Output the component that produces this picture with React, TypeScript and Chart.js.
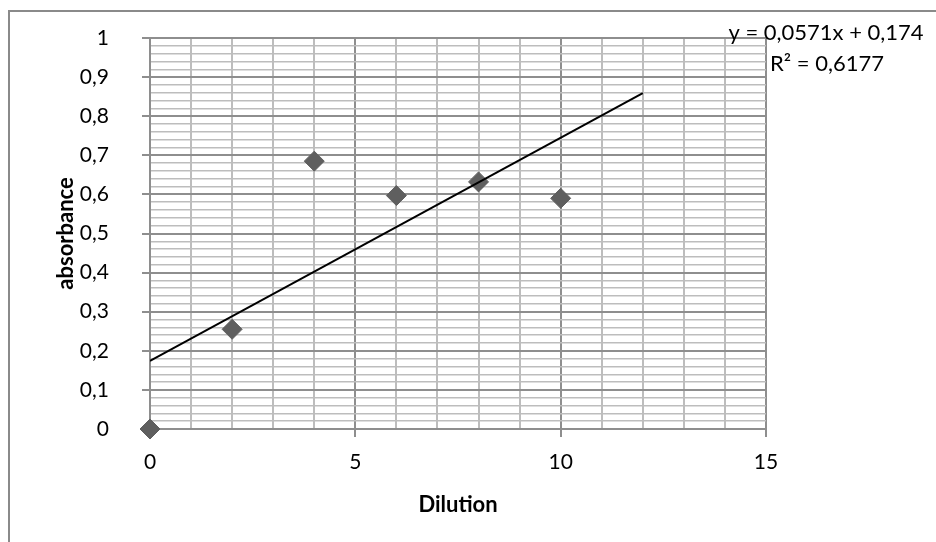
import React, { useEffect, useRef } from 'react';
import { Chart, registerables } from 'chart.js';

Chart.register(...registerables);

// ---- data ----
const dilution = [0, 2, 4, 6, 8, 10];
const absorbance = [0, 0.255, 0.685, 0.597, 0.632, 0.59];
const trendX = [0, 12];
const trendY = [0.174, 0.859];
const equationLabel = 'y = 0,0571x + 0,174';
const r2Label = 'R² = 0,6177';
const xTitle = 'Dilution';
const yTitle = 'absorbance';
const xMin = 0, xMax = 15, xMinorStep = 1, xMajorStep = 5;
const yMin = 0, yMax = 1, yMinorStep = 0.02, yMajorStep = 0.1;

const FONT = 'Lato';
const TICK_SIZE = 21;
const TITLE_SIZE = 22;
const MAJOR = '#8e8e8e';
const MINOR = '#bdbdbd';

const isMajor = (v: number, step: number) => Math.abs(v / step - Math.round(v / step)) < 1e-6;
const fmt = (v: number) => String(Math.round(v * 10) / 10).replace('.', ',');

const labelPlugin = {
  id: 'eqLabel',
  afterDatasetsDraw(chart: any) {
    const ctx = chart.ctx;
    const cx = chart.chartArea.right + 60;
    ctx.save();
    ctx.font = `22px ${FONT}`;
    ctx.fillStyle = '#000';
    ctx.textAlign = 'center';
    ctx.textBaseline = 'middle';
    ctx.fillText(equationLabel, cx, 33);
    ctx.fillText(r2Label, cx + 1, 64);
    ctx.restore();
  },
};

export default function App() {
  const ref = useRef<HTMLCanvasElement | null>(null);
  useEffect(() => {
    document.body.style.margin = '0';
    document.body.style.overflow = 'hidden';
    const canvas = ref.current;
    if (!canvas) return;
    const chart = new Chart(canvas, {
      type: 'scatter',
      data: {
        datasets: [
          {
            label: 'trend',
            data: trendX.map((x, i) => ({ x, y: trendY[i] })),
            showLine: true,
            borderColor: '#000',
            borderWidth: 2,
            pointRadius: 0,
            order: 0,
          },
          {
            label: 'absorbance',
            data: dilution.map((x, i) => ({ x, y: absorbance[i] })),
            pointStyle: 'rectRot',
            pointRadius: 10,
            backgroundColor: '#5f5f5f',
            borderColor: '#5f5f5f',
            borderWidth: 1,
            clip: false as any,
            order: 1,
          },
        ],
      },
      options: {
        responsive: false,
        animation: false,
        layout: { padding: { left: 0, top: 38, right: 170, bottom: 0 } },
        plugins: { legend: { display: false }, tooltip: { enabled: false } },
        scales: {
          x: {
            type: 'linear',
            min: xMin,
            max: xMax,
            afterFit: (s: any) => {
              s.height = 113;
              s.paddingLeft = 0;
              s.paddingRight = 0;
            },
            ticks: {
              stepSize: xMinorStep,
              autoSkip: false,
              maxRotation: 0,
              padding: 13,
              color: '#000',
              font: { family: FONT, size: TICK_SIZE },
              callback: (v: any) => (isMajor(Number(v), xMajorStep) ? fmt(Number(v)) : ''),
            },
            grid: {
              color: (c: any) => (isMajor(c.tick.value, xMajorStep) ? MAJOR : MINOR),
              lineWidth: 2,
              tickLength: 8,
              tickColor: (c: any) => (isMajor(c.tick.value, xMajorStep) ? MAJOR : 'rgba(0,0,0,0)'),
            },
            border: { color: MAJOR, width: 2 },
            title: {
              display: true,
              text: xTitle,
              color: '#000',
              font: { family: FONT, size: TITLE_SIZE, weight: 'bold' },
              padding: { top: 0, bottom: 24 },
            },
          },
          y: {
            type: 'linear',
            min: yMin,
            max: yMax,
            afterFit: (s: any) => {
              s.width = 150;
              s.paddingTop = 0;
              s.paddingBottom = 0;
            },
            ticks: {
              stepSize: yMinorStep,
              autoSkip: false,
              padding: 33,
              color: '#000',
              font: { family: FONT, size: TICK_SIZE },
              callback: (v: any) => (isMajor(Number(v), yMajorStep) ? fmt(Number(v)) : ''),
            },
            grid: {
              color: (c: any) => (isMajor(c.tick.value, yMajorStep) ? MAJOR : MINOR),
              lineWidth: (c: any) => (isMajor(c.tick.value, yMajorStep) ? 2 : 1.5),
              tickLength: 8,
              tickColor: (c: any) => (isMajor(c.tick.value, yMajorStep) ? MAJOR : 'rgba(0,0,0,0)'),
            },
            border: { color: MAJOR, width: 2 },
            title: {
              display: true,
              text: yTitle,
              color: '#000',
              font: { family: FONT, size: TITLE_SIZE, weight: 'bold' },
              padding: { top: 53, bottom: 0 },
            },
          },
        },
      },
      plugins: [labelPlugin],
    });
    return () => chart.destroy();
  }, []);

  return (
    <div style={{ position: 'relative', width: 936, height: 542, overflow: 'hidden' }}>
      <div
        style={{
          position: 'absolute',
          left: 8,
          top: 10,
          width: 940,
          height: 540,
          borderLeft: '2px solid #8a8a8a',
          borderTop: '2px solid #8a8a8a',
          boxSizing: 'border-box',
        }}
      />
      <canvas ref={ref} width={936} height={542} style={{ position: 'absolute', left: 0, top: 0, display: 'block' }} />
    </div>
  );
}
